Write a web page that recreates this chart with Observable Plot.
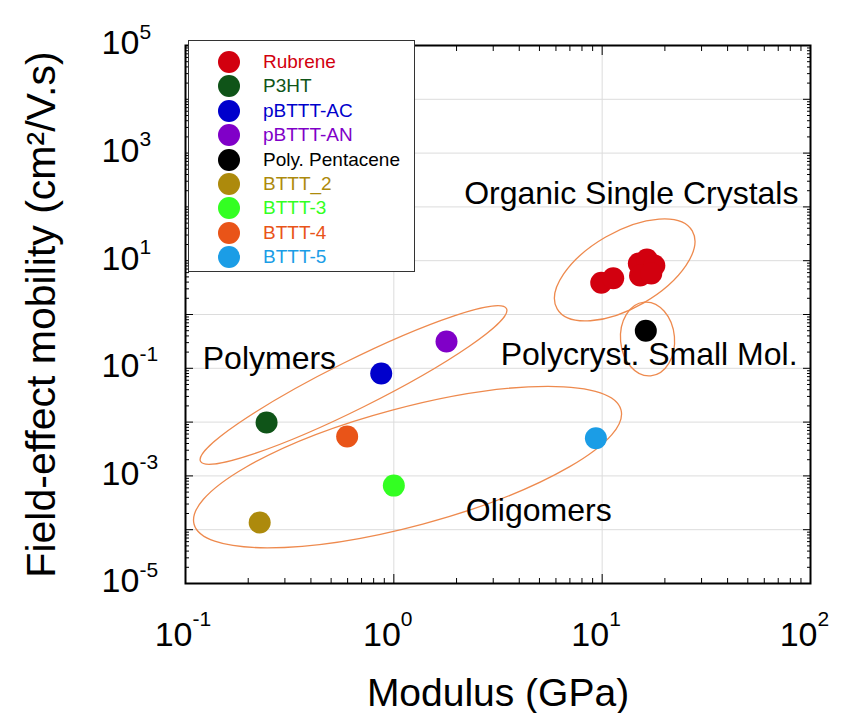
<!DOCTYPE html>
<html>
<head>
<meta charset="utf-8">
<script src="https://cdn.jsdelivr.net/npm/d3@7"></script>
<script src="https://cdn.jsdelivr.net/npm/@observablehq/plot@0.6"></script>
<style>
  body { margin: 0; background: #fff; }
  #wrap { position: relative; width: 843px; height: 713px; font-family: "Liberation Sans", Arial, sans-serif; }
  #legend { position: absolute; left: 188px; top: 40px; width: 227px; height: 232px; background: #fff;
            border: 1.5px solid #333; box-sizing: border-box; }
  .item { position: absolute; left: 0; height: 24px; display: flex; align-items: center; }
  .sw { width: 22px; height: 22px; border-radius: 50%; margin-left: 29px; flex: none; }
  .lab { margin-left: 23px; font-size: 19px; white-space: nowrap; }
</style>
</head>
<body>
<div id="wrap"></div>
<script>
// ---------- data ----------
const materials = ["Rubrene", "P3HT", "pBTTT-AC", "pBTTT-AN", "Poly. Pentacene", "BTTT_2", "BTTT-3", "BTTT-4", "BTTT-5"];
const materialColors = ["#d2000f", "#0f5418", "#0000cc", "#8000c8", "#000000", "#ad8a0c", "#33ff22", "#e95418", "#1b9de6"];

const pointMaterial = ["Rubrene", "Rubrene", "Rubrene", "Rubrene", "Rubrene", "Rubrene", "Rubrene",
                       "Poly. Pentacene", "P3HT", "pBTTT-AC", "pBTTT-AN", "BTTT_2", "BTTT-3", "BTTT-4", "BTTT-5"];
const modulusGPa = [9.9, 11.3, 15.0, 16.4, 17.8, 15.2, 17.2, 16.2, 0.245, 0.87, 1.79, 0.227, 1.0, 0.597, 9.33];
const mobility = [3.9, 4.7, 8.9, 10.5, 8.1, 5.3, 5.8, 0.50, 0.0098, 0.080, 0.315, 1.36e-4, 6.6e-4, 0.0054, 0.0050];

const xTickValues = [0.1, 1, 10, 100];
const xTickExponents = ["-1", "0", "1", "2"];
const yTickValues = [1e-5, 1e-3, 1e-1, 1e1, 1e3, 1e5];
const yTickExponents = ["-5", "-3", "-1", "1", "3", "5"];

const groupLabels = ["Organic Single Crystals", "Polymers", "Polycryst. Small Mol.", "Oligomers"];
const groupLabelX = [13.8, 0.121, 16.8, 4.96];
const groupLabelY = [177, 0.152, 0.181, 2.27e-4];
const groupLabelAnchor = ["middle", "start", "middle", "middle"];

// group ellipse centres (data units)
const ellipseCenterX = [12.9, 16.6, 0.644, 1.17];
const ellipseCenterY = [6.6, 0.343, 0.0479, 0.00143];

// ---------- derived tick sets ----------
const xMajor = d3.range(-1, 3).map(e => Math.pow(10, e));
const xMinor = d3.range(-1, 2).flatMap(e => d3.range(2, 10).map(k => k * Math.pow(10, e)));
const yMajor = d3.range(-5, 6).map(e => Math.pow(10, e));
const yMinor = d3.range(-5, 5).flatMap(e => d3.range(2, 10).map(k => k * Math.pow(10, e)));

// ellipse shapes (screen geometry, px / degrees)
const ellipseShape = [
  {rx: 78, ry: 38, angle: -30},
  {rx: 27, ry: 37, angle: -5},
  {rx: 171, ry: 24, angle: -26.5},
  {rx: 221, ry: 59, angle: -15}
];

const FONT = "Liberation Sans, Arial, sans-serif";
const idx = d3.range(modulusGPa.length);
const labelIdx = d3.range(groupLabels.length);

const ellipsesMark = (index, scales) => {
  const g = d3.create("svg:g").attr("fill", "none").attr("stroke", "#ee8a4e").attr("stroke-width", 1.3);
  ellipseCenterX.forEach((cxv, i) => {
    const cx = scales.x(cxv), cy = scales.y(ellipseCenterY[i]);
    const s = ellipseShape[i];
    g.append("ellipse").attr("cx", cx).attr("cy", cy).attr("rx", s.rx).attr("ry", s.ry)
      .attr("transform", `rotate(${s.angle} ${cx} ${cy})`);
  });
  return g.node();
};

const tickOpts = {stroke: "black", tickFormat: () => "", label: null};

const labelMarks = ["start", "middle"].map(anchor =>
  Plot.text(labelIdx.filter(i => groupLabelAnchor[i] === anchor), {
    x: i => groupLabelX[i], y: i => groupLabelY[i], text: i => groupLabels[i],
    textAnchor: anchor, fontSize: 32, fill: "black", lineAnchor: "middle"
  })
);

const chart = Plot.plot({
  width: 843,
  height: 713,
  marginLeft: 185,
  marginRight: 33,
  marginTop: 45,
  marginBottom: 130,
  style: {fontFamily: FONT, background: "white", color: "black"},
  x: {type: "log", domain: [0.1, 100], label: null},
  y: {type: "log", domain: [1e-5, 1e5], label: null},
  color: {domain: materials, range: materialColors},
  marks: [
    Plot.gridX({ticks: xMajor, stroke: "#dcdcdc", strokeOpacity: 1}),
    Plot.gridY({ticks: yMajor, stroke: "#dcdcdc", strokeOpacity: 1}),
    Plot.axisX({anchor: "bottom", ticks: xMinor, tickSize: -5, ...tickOpts}),
    Plot.axisX({anchor: "bottom", ticks: xMajor, tickSize: -9, ...tickOpts}),
    Plot.axisX({anchor: "top", ticks: xMinor, tickSize: -5, ...tickOpts}),
    Plot.axisX({anchor: "top", ticks: xMajor, tickSize: -9, ...tickOpts}),
    Plot.axisY({anchor: "left", ticks: yMinor, tickSize: -4, ...tickOpts}),
    Plot.axisY({anchor: "left", ticks: yMajor, tickSize: -8, ...tickOpts}),
    Plot.axisY({anchor: "right", ticks: yMinor, tickSize: -4, ...tickOpts}),
    Plot.axisY({anchor: "right", ticks: yMajor, tickSize: -8, ...tickOpts}),
    Plot.frame({stroke: "black", strokeWidth: 2}),
    ellipsesMark,
    Plot.dot(idx, {x: i => modulusGPa[i], y: i => mobility[i], fill: i => pointMaterial[i], r: 11, stroke: "none"}),
    ...labelMarks,
    // x tick labels
    Plot.text(xTickValues, {x: d => d, text: () => "10", frameAnchor: "bottom", textAnchor: "end",
      dx: 7, dy: 62, lineAnchor: "bottom", fontSize: 34, fill: "black"}),
    Plot.text(xTickValues, {x: d => d, text: (d, i) => xTickExponents[i], frameAnchor: "bottom", textAnchor: "start",
      dx: 7, dy: 42, lineAnchor: "bottom", fontSize: 21, fill: "black"}),
    // y tick labels
    Plot.text(yTickValues, {y: d => d, text: () => "10", frameAnchor: "left", textAnchor: "start",
      dx: -84, dy: -2, lineAnchor: "middle", fontSize: 34, fill: "black"}),
    Plot.text(yTickValues, {y: d => d, text: (d, i) => yTickExponents[i], frameAnchor: "left", textAnchor: "start",
      dx: -46, dy: -7, lineAnchor: "bottom", fontSize: 21, fill: "black"}),
    // axis titles
    Plot.text(["Modulus (GPa)"], {frameAnchor: "bottom", dy: 122, lineAnchor: "bottom", textAnchor: "middle",
      fontSize: 39, fill: "black"}),
    Plot.text(["Field-effect mobility (cm\u00B2/V.s)"], {frameAnchor: "left", rotate: -90, dx: -131,
      textAnchor: "middle", lineAnchor: "bottom", fontSize: 41, fill: "black"})
  ]
});

const wrap = document.getElementById("wrap");
wrap.appendChild(chart);

const legend = d3.select(wrap).append("div").attr("id", "legend");
materials.forEach((m, i) => {
  const item = legend.append("div").attr("class", "item").style("top", (9 + 24.4 * i) + "px");
  item.append("div").attr("class", "sw").style("background", materialColors[i]);
  item.append("div").attr("class", "lab").style("color", materialColors[i]).text(m);
});
</script>
</body>
</html>
